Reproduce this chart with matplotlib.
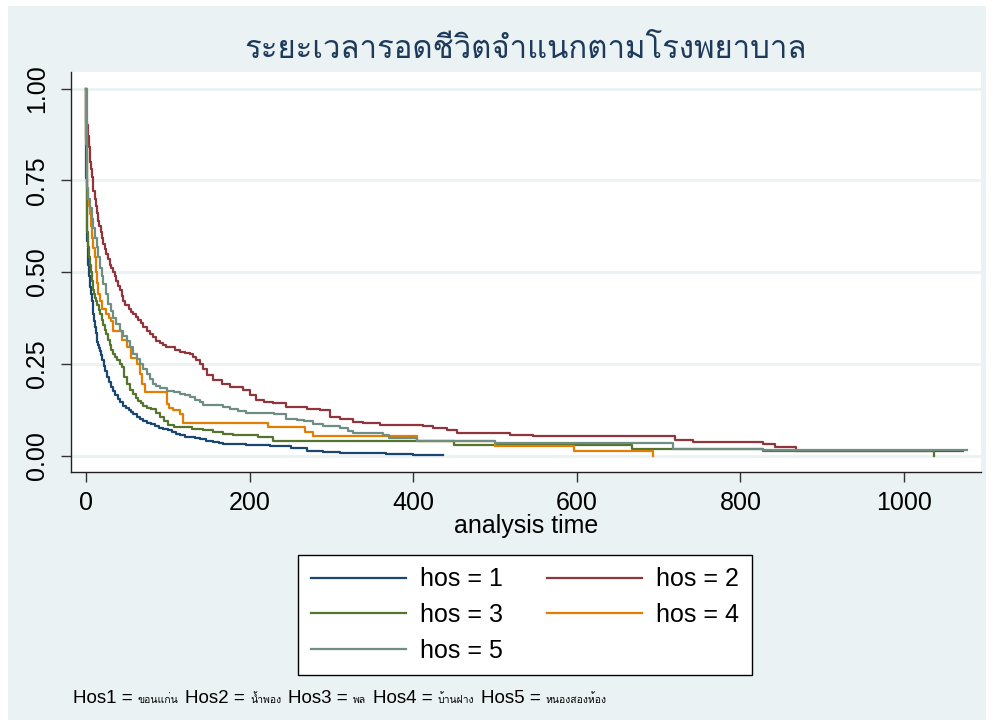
import matplotlib
matplotlib.use('Agg')
import matplotlib.pyplot as plt
from matplotlib import font_manager
from matplotlib.ft2font import FT2Font
from matplotlib.patches import Rectangle

# ---------------- data: (time, survival) ----------------
km_hos1 = [(0, 1.0), (0.5, 0.757), (1, 0.68), (1.6, 0.585), (2.3, 0.55), (3, 0.52), (4, 0.49),
           (4.9, 0.46), (6, 0.44), (7, 0.42), (8, 0.40), (9, 0.385), (10, 0.367), (11, 0.35),
           (12, 0.335), (13, 0.32), (14, 0.31), (15, 0.30), (16, 0.293), (17, 0.286),
           (18.5, 0.273), (20, 0.26), (21.5, 0.245), (23, 0.23), (25.5, 0.215), (28, 0.20),
           (30.5, 0.188), (33, 0.177), (36, 0.166), (39, 0.155), (42, 0.145), (45.6, 0.136),
           (49, 0.13), (52, 0.124), (55, 0.118), (58, 0.113), (62, 0.106), (66, 0.10),
           (70, 0.095), (74, 0.09), (79, 0.085), (84, 0.08), (89, 0.076), (94.5, 0.073),
           (100, 0.069), (105, 0.065), (110, 0.06), (115, 0.055), (121, 0.052), (127, 0.05),
           (133, 0.047), (139, 0.045), (147, 0.041), (155.6, 0.037), (162, 0.034), (168, 0.031),
           (195, 0.029), (225, 0.026), (250, 0.02), (270, 0.012), (290, 0.01), (310, 0.0077),
           (340, 0.006), (367, 0.0035), (400, 0.002), (436, 0.002)]

km_hos2 = [(0, 1.0), (0.5, 0.909), (1.6, 0.90), (2.5, 0.87), (3.5, 0.84), (4.9, 0.80), (6, 0.78),
           (7, 0.76), (8, 0.74), (9, 0.72), (10.5, 0.70), (12, 0.68), (13.5, 0.66), (15, 0.64),
           (16.5, 0.625), (18, 0.61), (19.5, 0.593), (21, 0.576), (23, 0.563), (25, 0.55),
           (27, 0.535), (29, 0.52), (31, 0.51), (33, 0.50), (35, 0.488), (37, 0.476),
           (39, 0.463), (41, 0.45), (43.5, 0.435), (45.6, 0.42), (48, 0.41), (52, 0.40),
           (55, 0.392), (58, 0.385), (61, 0.378), (64, 0.37), (67, 0.36), (70, 0.35),
           (74, 0.34), (78, 0.33), (82, 0.322), (86, 0.313), (90, 0.306), (94, 0.30),
           (98, 0.297), (103, 0.295), (109, 0.288), (115, 0.282), (121, 0.279), (127, 0.277),
           (131, 0.268), (135, 0.26), (139, 0.25), (143, 0.235), (147.5, 0.219), (155.6, 0.205),
           (166, 0.195), (176, 0.187), (192, 0.178), (200, 0.165), (208, 0.151), (217, 0.146),
           (229, 0.142), (245, 0.133), (270, 0.128), (286, 0.124), (298, 0.105), (310, 0.099),
           (326, 0.092), (339, 0.09), (359, 0.0826), (412, 0.08), (424, 0.074), (441, 0.069),
           (453, 0.0626), (518, 0.057), (547, 0.0526), (720, 0.0436), (742, 0.037),
           (828, 0.0308), (842, 0.0236), (868, 0.0125), (1072, 0.0125)]

km_hos3 = [(0, 1.0), (0.3, 0.86), (0.8, 0.66), (1.8, 0.61), (2.8, 0.567), (4, 0.54), (5, 0.52),
           (6, 0.50), (7, 0.476), (8, 0.46), (9, 0.45), (10, 0.44), (11, 0.43), (12.5, 0.42),
           (14, 0.41), (15.5, 0.397), (17, 0.385), (19, 0.37), (21, 0.355), (23, 0.342),
           (25, 0.33), (27, 0.315), (29, 0.30), (31, 0.288), (33, 0.277), (35.5, 0.268),
           (38, 0.26), (41, 0.25), (43.6, 0.24), (46.5, 0.215), (49.7, 0.195), (54, 0.18),
           (58, 0.168), (61, 0.158), (64, 0.15), (67, 0.143), (70, 0.136), (75, 0.131),
           (80, 0.127), (85, 0.115), (90, 0.104), (95, 0.093), (100.7, 0.082), (108, 0.079),
           (115, 0.077), (130, 0.073), (143.5, 0.069), (155, 0.064), (168, 0.06), (180, 0.057),
           (192, 0.055), (210, 0.052), (225, 0.05), (229, 0.04), (450, 0.030), (667, 0.019),
           (828, 0.012), (1037, 0.0)]

km_hos4 = [(0, 1.0), (0.5, 0.85), (1, 0.73), (2.7, 0.70), (3.8, 0.68), (4.9, 0.657), (6, 0.625),
           (7, 0.594), (9, 0.565), (11, 0.54), (12, 0.50), (13, 0.47), (15, 0.44), (17, 0.42),
           (19, 0.40), (25, 0.385), (28, 0.375), (31, 0.367), (33, 0.34), (44, 0.315),
           (49.7, 0.295), (55, 0.267), (62, 0.25), (66, 0.222), (69, 0.195), (72, 0.172),
           (98.5, 0.14), (102, 0.13), (106.8, 0.124), (115, 0.114), (119, 0.09), (223, 0.078),
           (268, 0.0645), (278, 0.0526), (405, 0.039), (500, 0.026), (597, 0.0136), (693, 0.0)]

km_hos5 = [(0, 1.0), (0.8, 0.73), (2.5, 0.70), (4.9, 0.675), (7, 0.645), (9, 0.62), (11, 0.593),
           (13, 0.567), (15, 0.54), (17, 0.512), (19, 0.49), (21, 0.467), (24, 0.44),
           (27, 0.412), (30, 0.393), (33, 0.376), (37, 0.358), (41, 0.34), (45, 0.326),
           (49.7, 0.313), (54, 0.295), (58, 0.277), (62, 0.263), (66, 0.25), (70, 0.236),
           (74, 0.222), (78, 0.208), (82, 0.195), (86, 0.19), (90, 0.185), (98.5, 0.177),
           (107, 0.172), (115, 0.168), (121, 0.164), (127, 0.16), (133, 0.152), (139, 0.145),
           (143.5, 0.137), (168, 0.133), (176, 0.126), (186, 0.121), (196, 0.117), (230, 0.114),
           (245, 0.10), (258, 0.097), (266, 0.094), (278, 0.087), (290, 0.08), (310, 0.074),
           (320, 0.068), (327, 0.062), (363, 0.055), (371, 0.049), (405, 0.039), (500, 0.033),
           (717, 0.018), (828, 0.016), (1077, 0.016)]

series_labels = ['hos = 1', 'hos = 2', 'hos = 3', 'hos = 4', 'hos = 5']
x_ticks = [0, 200, 400, 600, 800, 1000]
y_ticks = [0.0, 0.25, 0.50, 0.75, 1.00]
title_text = 'ระยะเวลารอดชีวิตจำแนกตามโรงพยาบาล'
xlabel_text = 'analysis time'
note_parts = [('Hos1 =', 'ขอนแก่น'), ('Hos2 =', 'น้ำพอง'), ('Hos3 =', 'พล'),
              ('Hos4 =', 'บ้านฝาง'), ('Hos5 =', 'หนองสองห้อง')]

# ---------------- fonts ----------------
def thai_fonts():
    found = []
    for f in font_manager.fontManager.ttflist:
        try:
            cm = FT2Font(f.fname).get_charmap()
        except Exception:
            continue
        if all(ord(ch) in cm for ch in 'ระยะเวลาน้ำห้อง'):
            if f.name not in found:
                found.append(f.name)
    return found

thai = thai_fonts()
LAT = 'Liberation Sans'
THAI_FAM = thai + [LAT, 'DejaVu Sans']
plt.rcParams['font.family'] = [LAT, 'DejaVu Sans']

# ---------------- figure ----------------
W, H = 994, 726
fig = plt.figure(figsize=(W / 100, H / 100), dpi=100, facecolor='white')
BG = '#EAF2F3'
fig.patches.append(Rectangle((8 / W, 6 / H), (W - 16) / W, (H - 12) / H,
                             transform=fig.transFigure, facecolor=BG, edgecolor='none',
                             zorder=-10))

ax = fig.add_axes([71 / W, 1 - 472 / H, (981 - 71) / W, (472 - 72) / H])
ax.set_facecolor('white')

colors = ['#1A476F', '#90353B', '#55752F', '#E37E00', '#6E8E84']
series = [km_hos1, km_hos2, km_hos3, km_hos4, km_hos5]
handles = []
for i, km in enumerate(series):
    t = [p[0] for p in km]
    s = [p[1] for p in km]
    h, = ax.step(t, s, where='post', color=colors[i], lw=1.6, label=series_labels[i],
                 zorder=3 + i)
    handles.append(h)

ax.set_xlim(-18.3, 1094)
ax.set_ylim(-0.0447, 1.045)
ax.set_xticks(x_ticks)
ax.set_xticklabels([str(v) for v in x_ticks])
ax.set_yticks(y_ticks)
ax.set_yticklabels([f'{v:.2f}' for v in y_ticks], rotation=90, va='center')
for side in ['top', 'right']:
    ax.spines[side].set_visible(False)
for side in ['left', 'bottom']:
    ax.spines[side].set_color('#222222')
    ax.spines[side].set_linewidth(1.0)
ax.tick_params(axis='both', direction='out', length=7, width=1, color='#333333',
               labelsize=18, labelcolor='black')
ax.tick_params(axis='x', pad=7)
ax.tick_params(axis='y', pad=9)
ax.grid(axis='y', color=BG, lw=2, zorder=1)
ax.set_axisbelow(True)

ax.set_xlabel(xlabel_text, fontsize=18, labelpad=-1)

fig.text(526 / W, 1 - 58 / H, title_text, ha='center', va='baseline', fontsize=22.4,
         color='#1E3A5A', family=THAI_FAM)

# legend: row-wise order
order = [0, 2, 4, 1, 3]
leg = fig.legend([handles[i] for i in order], [series_labels[i] for i in order],
                 loc='upper left', bbox_to_anchor=(298 / W, 1 - 555 / H), ncol=2,
                 fontsize=18, handlelength=3.8, handletextpad=0.6, columnspacing=1.72,
                 labelspacing=0.46, borderpad=0.5, borderaxespad=0, frameon=True,
                 fancybox=False, edgecolor='black', facecolor='white', framealpha=1)
leg.get_frame().set_linewidth(1.0)

# note with mixed font sizes
fig.canvas.draw()
renderer = fig.canvas.get_renderer()
x = 73 / W
y = 1 - 703 / H
for big, small in note_parts:
    t1 = fig.text(x, y, big, fontsize=13.5, va='baseline', ha='left',
                  family=[LAT, 'DejaVu Sans'])
    bb = t1.get_window_extent(renderer)
    x = bb.x1 / W + 5 / W
    t2 = fig.text(x, y, small, fontsize=7.5, va='baseline', ha='left', family=THAI_FAM)
    bb = t2.get_window_extent(renderer)
    x = bb.x1 / W + 7 / W

fig.savefig('out.png', dpi=100, facecolor='white')
